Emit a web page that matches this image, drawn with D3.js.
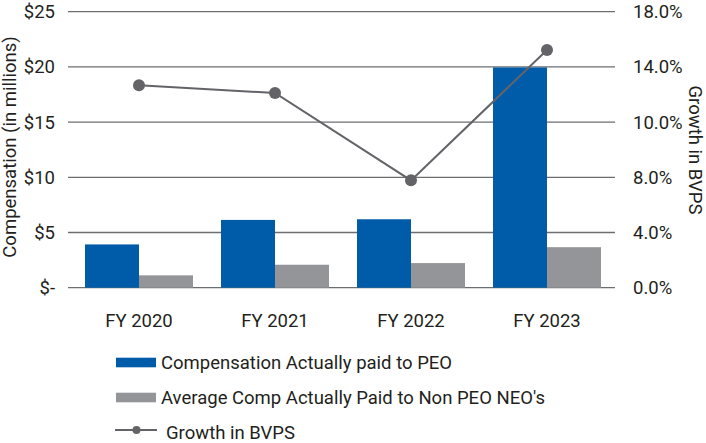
<!DOCTYPE html>
<html>
<head>
<meta charset="utf-8">
<script src="https://d3js.org/d3.v7.min.js"></script>
<style>
  body { margin: 0; background: #fff; }
  svg text { font-family: Roboto, "Noto Sans", sans-serif; fill: #231f20; }
</style>
</head>
<body>
<svg id="chart" width="706" height="443"></svg>
<script>
  // data
  const years = ["FY 2020", "FY 2021", "FY 2022", "FY 2023"]
  const peoComp = [3.92, 6.14, 6.2, 19.95]
  const neoComp = [1.12, 2.08, 2.23, 3.67]
  const bvpsGrowth = [13.2, 12.7, 7.0, 15.5]
  const leftTicks = [0, 5, 10, 15, 20, 25]
  const rightTicks = [0, 3.6, 7.2, 10.8, 14.4, 18]
  const rightTickLabels = ["0.0%", "4.0%", "8.0%", "10.0%", "14.0%", "18.0%"]

  const blue = "#005ca8"
  const gray = "#939598"
  const lineColor = "#636368"
  const fs = 18.5

  const svg = d3.select("#chart")
  const plotTop = 11.7, plotBottom = 287.7, plotLeft = 68, plotRight = 615

  const x = d3.scaleBand().domain(years).range([71, 615]).paddingInner(0.206).paddingOuter(0.103)
  const y = d3.scaleLinear().domain([0, 25]).range([plotBottom, plotTop])
  const y2 = d3.scaleLinear().domain([0, 18]).range([plotBottom, plotTop])

  // gridlines
  svg.append("g")
    .selectAll("line")
    .data(leftTicks)
    .join("line")
    .attr("x1", plotLeft).attr("x2", plotRight)
    .attr("y1", d => y(d)).attr("y2", d => y(d))
    .attr("stroke", "#6d6e71")
    .attr("stroke-width", 1.3)

  // left axis
  const yAxis = d3.axisLeft(y).tickValues(leftTicks).tickSize(0).tickPadding(0)
    .tickFormat(d => d === 0 ? "$-" : "$" + d)
  svg.append("g").attr("transform", "translate(55,0)").call(yAxis)
    .call(g => g.select(".domain").remove())
    .selectAll("text").attr("font-size", fs).attr("fill", "#231f20")
    .attr("font-family", "Roboto, sans-serif")

  // right axis
  const y2Axis = d3.axisRight(y2).tickValues(rightTicks).tickSize(0).tickPadding(0)
    .tickFormat((d, i) => rightTickLabels[i])
  svg.append("g").attr("transform", "translate(633,0)").call(y2Axis)
    .call(g => g.select(".domain").remove())
    .selectAll("text").attr("font-size", fs).attr("fill", "#231f20")
    .attr("font-family", "Roboto, sans-serif")

  // x axis labels
  const xAxis = d3.axisBottom(x).tickSize(0).tickPadding(0)
  svg.append("g").attr("transform", "translate(0,314)").call(xAxis)
    .call(g => g.select(".domain").remove())
    .selectAll("text").attr("font-size", fs).attr("fill", "#231f20")
    .attr("font-family", "Roboto, sans-serif")

  const bw = x.bandwidth() / 2

  svg.append("g").selectAll("rect")
    .data(peoComp)
    .join("rect")
    .attr("x", (d, i) => x(years[i]))
    .attr("width", bw)
    .attr("y", d => y(d))
    .attr("height", d => y(0) - y(d))
    .attr("fill", blue)

  svg.append("g").selectAll("rect")
    .data(neoComp)
    .join("rect")
    .attr("x", (d, i) => x(years[i]) + bw)
    .attr("width", bw)
    .attr("y", d => y(d))
    .attr("height", d => y(0) - y(d))
    .attr("fill", gray)

  // growth line
  const line = d3.line()
    .x((d, i) => x(years[i]) + bw)
    .y(d => y2(d))
  svg.append("path")
    .datum(bvpsGrowth)
    .attr("d", line)
    .attr("fill", "none")
    .attr("stroke", lineColor)
    .attr("stroke-width", 2)
  svg.append("g").selectAll("circle")
    .data(bvpsGrowth)
    .join("circle")
    .attr("cx", (d, i) => x(years[i]) + bw)
    .attr("cy", d => y2(d))
    .attr("r", 6)
    .attr("fill", lineColor)

  // axis titles
  svg.append("text")
    .attr("transform", "translate(16,147) rotate(-90)")
    .attr("text-anchor", "middle")
    .attr("font-size", fs)
    .text("Compensation (in millions)")
  svg.append("text")
    .attr("transform", "translate(689,150) rotate(90)")
    .attr("text-anchor", "middle")
    .attr("font-size", fs)
    .text("Growth in BVPS")

  // legend
  const legend = svg.append("g")
  legend.append("rect").attr("x", 116).attr("y", 357.7).attr("width", 40).attr("height", 9.6).attr("fill", blue)
  legend.append("text").attr("x", 161).attr("y", 368.5).attr("font-size", fs).text("Compensation Actually paid to PEO")
  legend.append("rect").attr("x", 116).attr("y", 392.7).attr("width", 40).attr("height", 9.6).attr("fill", gray)
  legend.append("text").attr("x", 161).attr("y", 403.5).attr("font-size", fs).text("Average Comp Actually Paid to Non PEO NEO's")
  legend.append("line").attr("x1", 115).attr("x2", 157).attr("y1", 430).attr("y2", 430)
    .attr("stroke", lineColor).attr("stroke-width", 2)
  legend.append("circle").attr("cx", 136.5).attr("cy", 430).attr("r", 4).attr("fill", lineColor)
  legend.append("text").attr("x", 166).attr("y", 438.5).attr("font-size", fs).text("Growth in BVPS")
</script>
</body>
</html>
